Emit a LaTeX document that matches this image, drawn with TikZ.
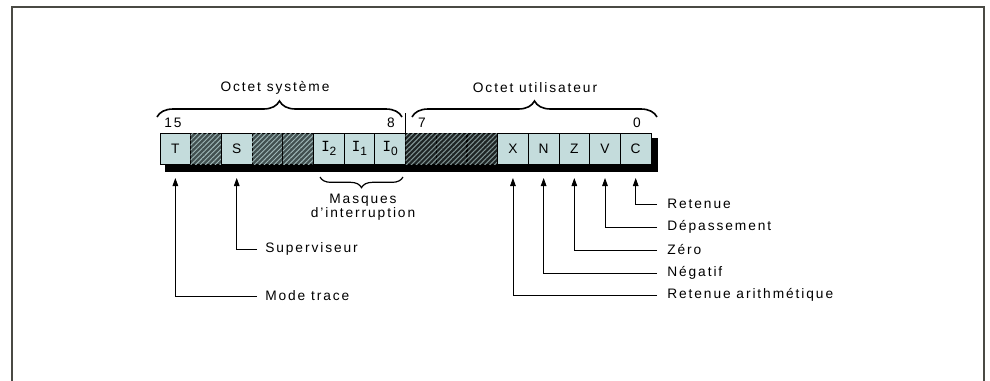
\documentclass[tikz,border=0pt]{standalone}
\usepackage{fontspec}
\setmainfont{Liberation Sans}[LetterSpace=14]
\newfontfamily\monofont{DejaVu Sans Mono}
\usetikzlibrary{decorations.pathreplacing,patterns.meta,arrows.meta}
\definecolor{cellfill}{HTML}{C4DCDC}
\definecolor{hatchbg}{HTML}{425050}
\definecolor{hatchfg}{HTML}{A0B8B8}
\definecolor{hatchdk}{HTML}{1E2424}
\definecolor{framec}{HTML}{4A4A44}
\newcommand{\Isub}[1]{{\monofont\fontsize{10.5}{11}\selectfont I}\raisebox{-2.5pt}{\fontsize{9}{9}\selectfont #1}}
\tikzset{
  cell/.style={draw=black, line width=0.6pt, fill=cellfill, minimum width=23pt, minimum height=23.25pt, inner sep=0pt},
  hatch/.style={cell, fill=hatchbg, postaction={pattern={Lines[angle=45,distance=2.6pt,line width=0.7pt]}, pattern color=hatchfg}},
  hatchdark/.style={cell, fill=hatchdk, postaction={pattern={Lines[angle=45,distance=2.6pt,line width=0.8pt]}, pattern color=hatchfg!80!black}},
  lbl/.style={inner sep=0pt, anchor=west},
  arr/.style={-{Triangle[length=6pt,width=4.2pt]}, line width=0.6pt},
  bracestyle/.style={decorate, line width=1.2pt},
}
\begin{document}
\begin{tikzpicture}[x=0.75pt,y=-0.75pt, font=\fontsize{10.3}{12}\selectfont]
\useasboundingbox (0,0) rectangle (990,380);
% frame
\draw[framec, line width=1.5pt] (12,381) -- (12,7) -- (984,7) -- (984,381);
% shadow
\fill[black] (165,138) rectangle (658,172);
% cells
\node[cell]      (b15) at (175.35,148.5) {T};
\node[hatch]     (b14) at (206.04,148.5) {};
\node[cell]      (b13) at (236.73,148.5) {S};
\node[hatch]     (b12) at (267.42,148.5) {};
\node[hatch]     (b11) at (298.11,148.5) {};
\node[cell]      (b10) at (328.80,148.5) {\Isub{2}};
\node[cell]      (b9)  at (359.49,148.5) {\Isub{1}};
\node[cell]      (b8)  at (390.18,148.5) {\Isub{0}};
\node[hatchdark] (b7)  at (420.87,148.5) {};
\node[hatchdark] (b6)  at (451.56,148.5) {};
\node[hatchdark] (b5)  at (482.25,148.5) {};
\node[cell]      (b4)  at (512.94,148.5) {X};
\node[cell]      (b3)  at (543.63,148.5) {N};
\node[cell]      (b2)  at (574.32,148.5) {Z};
\node[cell]      (b1)  at (605.01,148.5) {V};
\node[cell]      (b0)  at (635.70,148.5) {C};
% bit numbers
\node (n15) at (173,123) {15};
\node (n8)  at (391,123) {8};
\node (n7)  at (422,123) {7};
\node (n0)  at (637,123) {0};
% divider
\draw[line width=0.7pt] (b8.north east) -- ++(0,-20);
% upper braces
\draw[bracestyle, decoration={brace, amplitude=12pt}] (157,117) -- (402,117);
\draw[bracestyle, decoration={brace, amplitude=12pt}] (412,117) -- (657,117);
\node (sys) at (275,88) {Octet système};
\node (usr) at (535,88) {Octet utilisateur};
% lower brace
\draw[line width=0.9pt, decorate, decoration={brace, amplitude=8pt, mirror}] (320,177) -- (403,177);
\node[align=center, font=\fontsize{10.3}{10.5}\selectfont] (masq) at (363,207) {Masques\\d’interruption};
% labels
\coordinate (tipy) at (0,178);
\node[lbl] (mode) at (265,296) {Mode trace};
\node[lbl] (sup)  at (265,249) {Superviseur};
\node[lbl] (ret)  at (667,204) {Retenue};
\node[lbl] (dep)  at (667,227) {Dépassement};
\node[lbl] (zer)  at (667,250) {Zéro};
\node[lbl] (neg)  at (667,273) {Négatif};
\node[lbl] (reta) at (667,295) {Retenue arithmétique};
% arrows
\draw[arr] ([xshift=-6pt]mode.west) -| (b15.south |- tipy);
\draw[arr] ([xshift=-6pt]sup.west)  -| (b13.south |- tipy);
\draw[arr] ([xshift=-7.5pt]ret.west)  -| (b0.south |- tipy);
\draw[arr] ([xshift=-7.5pt]dep.west)  -| (b1.south |- tipy);
\draw[arr] ([xshift=-7.5pt]zer.west)  -| (b2.south |- tipy);
\draw[arr] ([xshift=-7.5pt]neg.west)  -| (b3.south |- tipy);
\draw[arr] ([xshift=-7.5pt]reta.west) -| (b4.south |- tipy);
\end{tikzpicture}
\end{document}
